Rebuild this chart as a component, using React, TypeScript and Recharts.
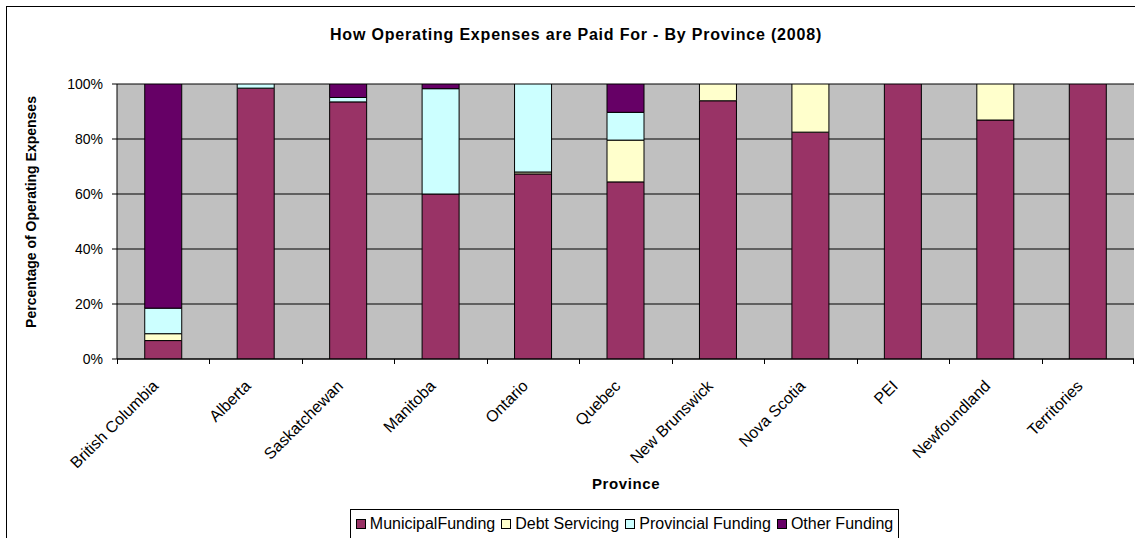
import React from 'react';
import { BarChart, Bar, XAxis, YAxis, CartesianGrid } from 'recharts';

const provinces = ['British Columbia', 'Alberta', 'Saskatchewan', 'Manitoba', 'Ontario', 'Quebec', 'New Brunswick', 'Nova Scotia', 'PEI', 'Newfoundland', 'Territories'];
const municipalFunding = [6.7, 98.5, 93.5, 60.0, 67.3, 64.4, 93.9, 82.5, 100, 86.9, 100];
const debtServicing = [2.5, 0, 0, 0, 0.7, 15.2, 6.1, 17.5, 0, 13.1, 0];
const provincialFunding = [9.3, 1.5, 1.6, 38.3, 32.0, 10.1, 0, 0, 0, 0, 0];
const otherFunding = [81.5, 0, 4.9, 1.7, 0, 10.3, 0, 0, 0, 0, 0];
const yTicks = [0, 20, 40, 60, 80, 100];

const seriesNames = ['MunicipalFunding', 'Debt Servicing', 'Provincial Funding', 'Other Funding'];
const seriesKeys = ['municipal', 'debt', 'provincial', 'other'];
const seriesColors = ['#993366', '#FFFFCC', '#CCFFFF', '#660066'];

const data = provinces.map((p, i) => ({
  name: p,
  municipal: municipalFunding[i],
  debt: debtServicing[i],
  provincial: provincialFunding[i],
  other: otherFunding[i],
}));

const W = 1135;
const H = 538;
const M = { top: 84, left: 57, right: 1, bottom: 149 };
const Y_AXIS_W = 60;
const X_AXIS_H = 30;
const FONT = '"Liberation Sans", Arial, sans-serif';
const band = (W - M.left - Y_AXIS_W - M.right) / provinces.length;

const XTick = (props: any) => {
  const { x, y, payload, index } = props;
  const lx = Math.round(x - band / 2) + 0.5;
  const rx = Math.round(x + band / 2) - 0.5;
  return (
    <g>
      <line x1={lx} x2={lx} y1={y} y2={y + 5} stroke="#000" strokeWidth={1} shapeRendering="crispEdges" />
      {index === provinces.length - 1 && (
        <line x1={rx} x2={rx} y1={y} y2={y + 5} stroke="#000" strokeWidth={1} shapeRendering="crispEdges" />
      )}
      <text
        transform={`translate(${x - 4},${y + 28}) rotate(-45)`}
        textAnchor="end"
        fontSize={16}
        fontFamily={FONT}
        fill="#000"
      >
        {payload.value}
      </text>
    </g>
  );
};

const YTick = (props: any) => {
  const { x, y, payload } = props;
  return (
    <text x={x} y={y + 5} textAnchor="end" fontSize={14} fontFamily={FONT} fill="#000">
      {payload.value + '%'}
    </text>
  );
};

export default function App() {
  return (
    <div style={{ position: 'fixed', left: 0, top: 0, width: W, height: H, overflow: 'hidden', background: '#fff' }}>
      <div
        style={{
          position: 'absolute',
          left: 6,
          top: 6,
          width: 1160,
          height: 560,
          border: '1px solid #000',
          boxSizing: 'border-box',
        }}
      />
      <BarChart
        width={W}
        height={H}
        data={data}
        margin={M}
        barCategoryGap="30%"
        style={{ position: 'absolute', left: 0, top: 0 }}
      >
        <CartesianGrid vertical={false} horizontal stroke="#000" fill="#C0C0C0" fillOpacity={1} />
        <XAxis
          dataKey="name"
          height={X_AXIS_H}
          tickLine={false}
          tickSize={0}
          tickMargin={0}
          interval={0}
          axisLine={{ stroke: '#000' }}
          tick={<XTick />}
        />
        <YAxis
          width={Y_AXIS_W}
          domain={[0, 100]}
          ticks={yTicks}
          tickSize={5}
          tickMargin={9}
          tickLine={{ stroke: '#000' }}
          axisLine={{ stroke: '#000' }}
          tick={<YTick />}
          allowDataOverflow
        />
        {seriesKeys.map((k, i) => (
          <Bar
            key={k}
            dataKey={k}
            name={seriesNames[i]}
            stackId="a"
            fill={seriesColors[i]}
            stroke="#000"
            strokeWidth={1}
            isAnimationActive={false}
          />
        ))}
      </BarChart>
      <div
        style={{
          position: 'absolute',
          left: 350,
          top: 509,
          width: 549,
          height: 30,
          border: '1px solid #000',
          background: '#fff',
          display: 'flex',
          alignItems: 'center',
          justifyContent: 'center',
          boxSizing: 'border-box',
          fontFamily: FONT,
          fontSize: 16,
          whiteSpace: 'nowrap',
        }}
      >
        {seriesNames.map((n, i) => (
          <span key={n} style={{ display: 'inline-flex', alignItems: 'center', marginRight: i < 3 ? 6 : 0 }}>
            <span
              style={{
                display: 'inline-block',
                width: 8,
                height: 8,
                background: seriesColors[i],
                border: '1px solid #000',
                marginRight: 4,
              }}
            />
            {n}
          </span>
        ))}
      </div>
      <svg width={W} height={H} style={{ position: 'absolute', left: 0, top: 0, pointerEvents: 'none' }}>
        <text x={576} y={40} textAnchor="middle" fontSize={16} letterSpacing={0.8} fontWeight="bold" fontFamily={FONT} fill="#000">
          How Operating Expenses are Paid For - By Province (2008)
        </text>
        <text
          transform="translate(36,212) rotate(-90)"
          textAnchor="middle"
          fontSize={14}
          fontWeight="bold"
          fontFamily={FONT}
          fill="#000"
        >
          Percentage of Operating Expenses
        </text>
        <text x={626} y={489} textAnchor="middle" fontSize={15} letterSpacing={0.6} fontWeight="bold" fontFamily={FONT} fill="#000">
          Province
        </text>
      </svg>
    </div>
  );
}
